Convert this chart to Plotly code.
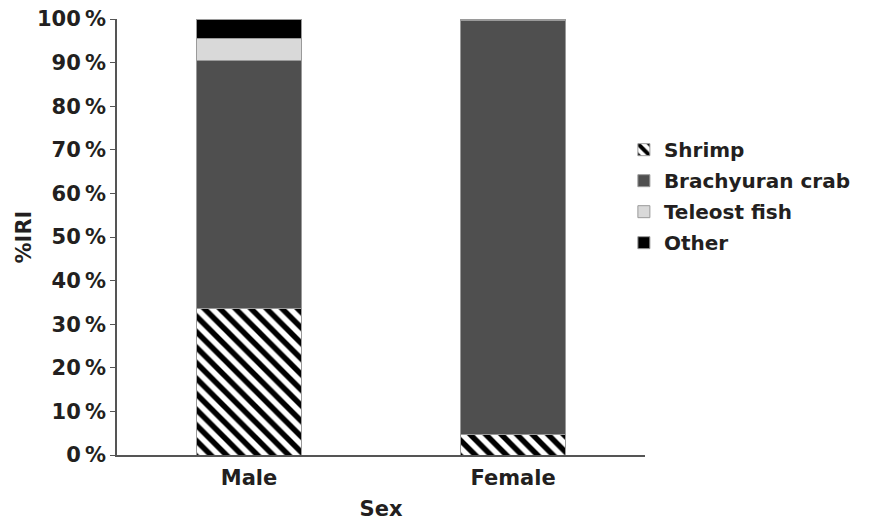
import plotly.graph_objects as go

categories = ["Male", "Female"]
series_names = ["Shrimp", "Brachyuran crab", "Teleost fish", "Other"]
shrimp = [33.5, 4.6]
brachyuran = [56.9, 95.1]
teleost = [5.2, 0.1]
other = [4.4, 0.2]
tick_vals = [0, 10, 20, 30, 40, 50, 60, 70, 80, 90, 100]
tick_text = [f"{v}\u2009%" for v in tick_vals]

def f(size):
    return dict(family="DejaVu Sans", size=size, color="#231f20", weight="bold")

values = [shrimp, brachyuran, teleost, other]
colors = ["white", "#4f4f4f", "#d9d9d9", "#000000"]

fig = go.Figure()
for i, (name, vals, col) in enumerate(zip(series_names, values, colors)):
    marker = dict(color=col, line=dict(color="#9a9a9a", width=1))
    if i == 0:
        marker["pattern"] = dict(shape="\\", fgcolor="black", bgcolor="white",
                                 size=11, solidity=0.5, fillmode="replace", fgopacity=1)
    fig.add_trace(go.Bar(name=name, x=categories, y=vals, marker=marker, width=0.4,
                         legendgroup=name))

fig.update_layout(
    barmode="stack",
    width=881, height=521,
    margin=dict(l=117, r=236, t=19, b=66, autoexpand=False),
    plot_bgcolor="white", paper_bgcolor="white",
    font=f(21),
    legend=dict(traceorder="grouped", x=0.96, xanchor="left", y=0.745, yanchor="top",
                font=f(20), itemwidth=30, tracegroupgap=2, bgcolor="rgba(0,0,0,0)"),
    xaxis=dict(showline=True, linecolor="#555", linewidth=1.5, ticks="", automargin=False,
               tickfont=f(21), ticklabelstandoff=3,
               title=dict(text="Sex", standoff=14, font=f(21))),
    yaxis=dict(range=[0, 100], showline=True, linecolor="#555", linewidth=1.5, automargin=False,
               ticks="outside", ticklen=5, tickcolor="#555", showgrid=False, zeroline=False,
               tickvals=tick_vals, ticktext=tick_text,
               tickfont=f(21),
               title=dict(text="%IRI", standoff=0, font=f(21))),
)

fig.write_html("out.html", config={"displayModeBar": False},
               post_script="document.body.style.margin='0';document.body.style.padding='0';")
